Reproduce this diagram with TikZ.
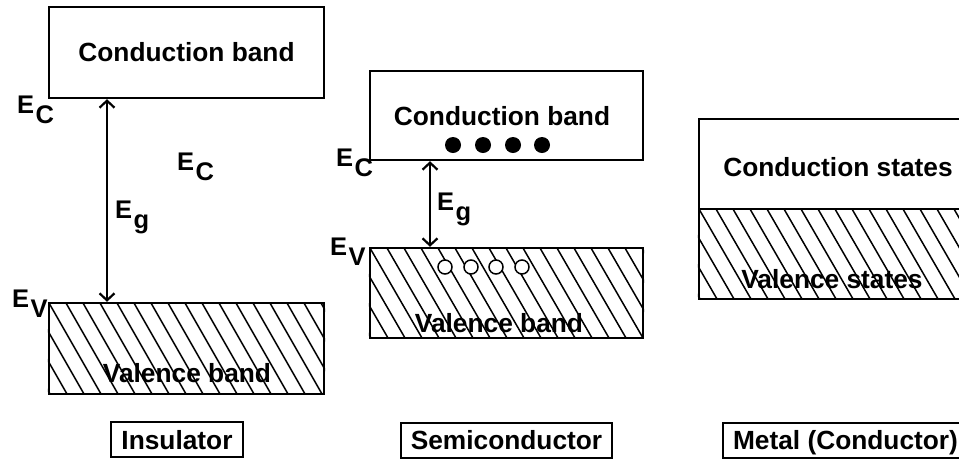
\documentclass[tikz,border=0pt]{standalone}
\usepackage{fontspec}
\setmainfont{Liberation Sans}
\usetikzlibrary{arrows.meta}

\tikzset{
  band/.style={draw, line width=2.4pt, inner sep=0pt},
  hatch/.style={line width=1.5pt},
  gaparrow/.style={{Straight Barb[length=7pt,width=15pt]}-{Straight Barb[length=7pt,width=15pt]}, line width=2.2pt},
  lbl/.style={font=\bfseries\fontsize{26.3}{30}\selectfont, inner sep=0pt},
  lvl/.style={font=\bfseries\fontsize{25.5}{27}\selectfont, inner sep=0pt, anchor=base west},
  caption/.style={draw, line width=2pt, inner xsep=10pt, inner ysep=8pt,
    text height=19pt, text depth=0pt,
    font=\bfseries\fontsize{26.3}{30}\selectfont},
}
\newcommand\elev[2]{#1\kern1.5pt\raisebox{-10.5pt}{#2}}

\begin{document}
\begin{tikzpicture}[x=1pt, y=-1pt]
    \useasboundingbox (0,0) rectangle (959,459);
    \clip (0,0) rectangle (959,459);

    % Insulator
    \node[band, minimum width=275pt, minimum height=91pt] (icb) at (186.5,52.5) {};
    \node[band, minimum width=275pt, minimum height=91pt] (ivb) at (186.5,348.5) {};
    \begin{scope}
        \clip (ivb.south west) rectangle (ivb.north east);
        \foreach \i in {-4,...,17}
            \draw[hatch] (49+\i*17,303) -- ++(52,91);
    \end{scope}
    \node[lbl] (ict) at (186.5,52.5) {Conduction band};
    \node[lbl] (ivt) at (187,373) {Valence band};
    \coordinate (iarr) at (107,0);
    \draw[gaparrow] (icb.south -| iarr) -- (ivb.north -| iarr);
    \node[lvl] (iec) at (17,113) {\elev{E}{C}};
    \node[lvl] (iec2) at (177,170) {\elev{E}{C}};
    \node[lvl] (ieg) at (115,218) {\elev{E}{g}};
    \node[lvl] (iev) at (12,307) {\elev{E}{V}};
    \node[caption] (icap) at (177,439.5) {Insulator};

    % Semiconductor
    \node[band, minimum width=273pt, minimum height=89pt] (scb) at (506.5,115.5) {};
    \node[band, minimum width=273pt, minimum height=90pt] (svb) at (506.5,293) {};
    \begin{scope}
        \clip (svb.south west) rectangle (svb.north east);
        \foreach \i in {-4,...,17}
            \draw[hatch] (370+\i*17,248) -- ++(52,90);
    \end{scope}
    \foreach \x in {453,483,513,542}
        \fill (\x,145) circle (8pt);
    \foreach \x in {445,471,496,522}
        \draw[line width=1.5pt, fill=white] (\x,267) circle (7pt);
    \node[lbl] (sct) at (502,116) {Conduction band};
    \node[lbl] (svt) at (499,323) {Valence band};
    \coordinate (sarr) at (430,0);
    \draw[gaparrow] (scb.south -| sarr) -- (svb.north -| sarr);
    \node[lvl] (sec) at (336,166) {\elev{E}{C}};
    \node[lvl] (seg) at (437,210) {\elev{E}{g}};
    \node[lvl] (sev) at (330,255) {\elev{E}{V}};
    \node[caption] (scap) at (506.5,440) {Semiconductor};

    % Metal (runs past the right edge)
    \node[band, minimum width=291pt, minimum height=90pt] (mcb) at (844.5,164) {};
    \node[band, minimum width=291pt, minimum height=90pt] (mvb) at (844.5,254) {};
    \begin{scope}
        \clip (mvb.south west) rectangle (mvb.north east);
        \foreach \i in {-4,...,18}
            \draw[hatch] (699+\i*17,209) -- ++(52,90);
    \end{scope}
    \node[lbl] (mct) at (838,167) {Conduction states};
    \node[lbl] (mvt) at (832,279) {Valence states};
    \node[caption, anchor=west] (mcap) at (722,440) {Metal (Conductor)};
\end{tikzpicture}
\end{document}
